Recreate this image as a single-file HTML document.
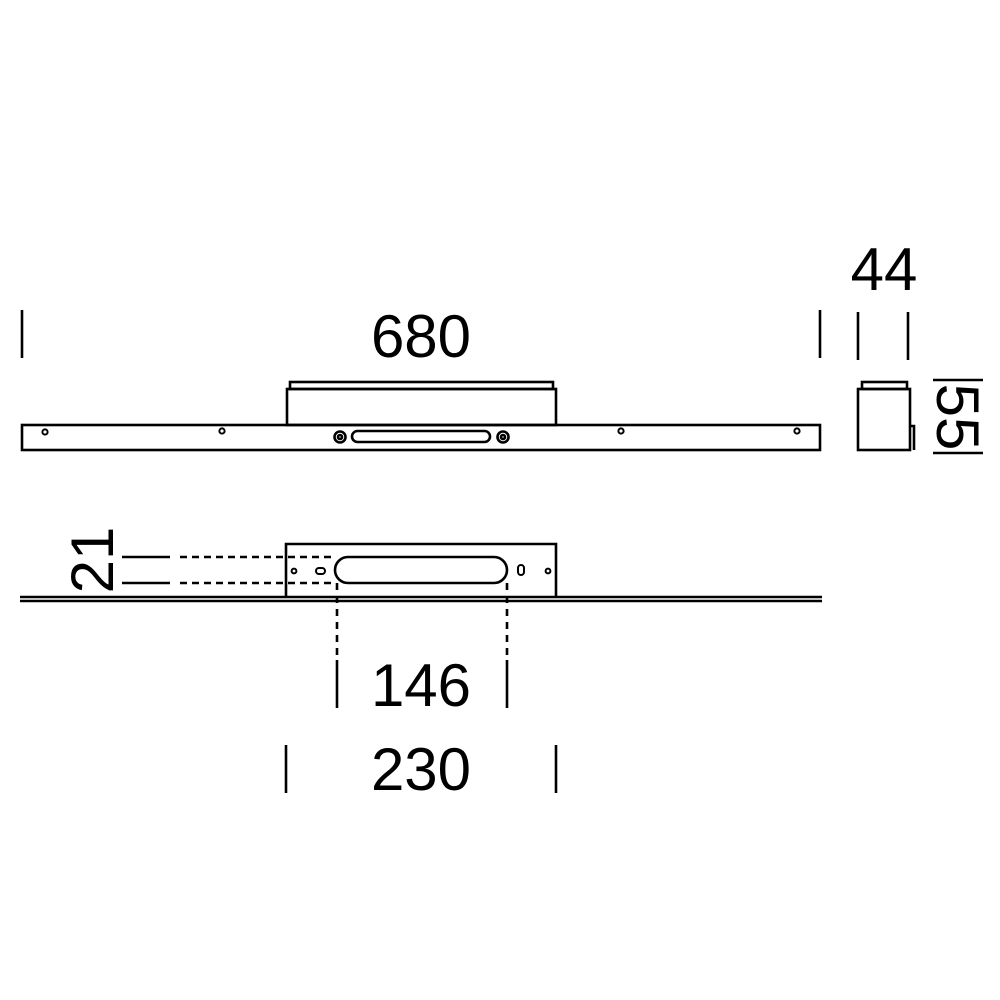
<!DOCTYPE html>
<html><head><style>html,body{margin:0;padding:0;background:#fff;}svg{display:block}</style></head>
<body>
<svg width="1000" height="1000" viewBox="0 0 1000 1000" xmlns="http://www.w3.org/2000/svg" font-family="Liberation Sans, sans-serif">
<rect width="1000" height="1000" fill="#fff"/>
<g fill="none" stroke="#000" stroke-width="2.6">
<line x1="22" y1="310" x2="22" y2="358"/>
<line x1="820" y1="310" x2="820" y2="358"/>
<rect x="22" y="425" width="798" height="25"/>
<rect x="287" y="389" width="269" height="36"/>
<rect x="290" y="382" width="263" height="7"/>
<rect x="352" y="431" width="138" height="11" rx="5.5"/>
<circle cx="340" cy="437" r="5.5"/><circle cx="340" cy="437" r="2"/>
<circle cx="503" cy="437" r="5.5"/><circle cx="503" cy="437" r="2"/>
<circle cx="45" cy="432" r="2.6" stroke-width="2"/>
<circle cx="222" cy="431" r="2.6" stroke-width="2"/>
<circle cx="621" cy="431" r="2.6" stroke-width="2"/>
<circle cx="797" cy="431" r="2.6" stroke-width="2"/>
<line x1="858" y1="312" x2="858" y2="360"/>
<line x1="908" y1="312" x2="908" y2="360"/>
<rect x="858" y="389" width="52" height="61"/>
<rect x="862" y="382" width="45" height="7"/>
<polyline points="910,426 914,426 914,450"/>
<line x1="933" y1="380" x2="983" y2="380"/>
<line x1="933" y1="453" x2="983" y2="453"/>
<line x1="20" y1="597" x2="822" y2="597"/>
<line x1="20" y1="601" x2="822" y2="601"/>
<polyline points="286,597 286,544 556,544 556,597"/>
<rect x="335" y="557" width="172" height="26" rx="13"/>
<circle cx="294" cy="571" r="2.4" stroke-width="2"/>
<circle cx="548" cy="571" r="2.4" stroke-width="2"/>
<rect x="316" y="568" width="9" height="6" rx="3" stroke-width="2"/>
<rect x="518" y="565" width="6" height="10" rx="3" stroke-width="2"/>
<line x1="122" y1="557" x2="170" y2="557"/>
<line x1="122" y1="583" x2="170" y2="583"/>
<line x1="180" y1="557" x2="335" y2="557" stroke-dasharray="7,5"/>
<line x1="180" y1="583" x2="335" y2="583" stroke-dasharray="7,5"/>
<line x1="337" y1="583" x2="337" y2="655" stroke-dasharray="7,6"/>
<line x1="507" y1="583" x2="507" y2="655" stroke-dasharray="7,6"/>
<line x1="337" y1="660" x2="337" y2="708"/>
<line x1="507" y1="660" x2="507" y2="708"/>
<line x1="286" y1="745" x2="286" y2="793"/>
<line x1="556" y1="745" x2="556" y2="793"/>
</g>
<g fill="#000" font-size="60" text-anchor="middle">
<text x="421" y="357">680</text>
<text x="884" y="290">44</text>
<text x="421" y="706">146</text>
<text x="421" y="790">230</text>
<text transform="translate(937,417) rotate(90)">55</text>
<text transform="translate(113,560) rotate(-90)">21</text>
</g>
</svg>
</body></html>
